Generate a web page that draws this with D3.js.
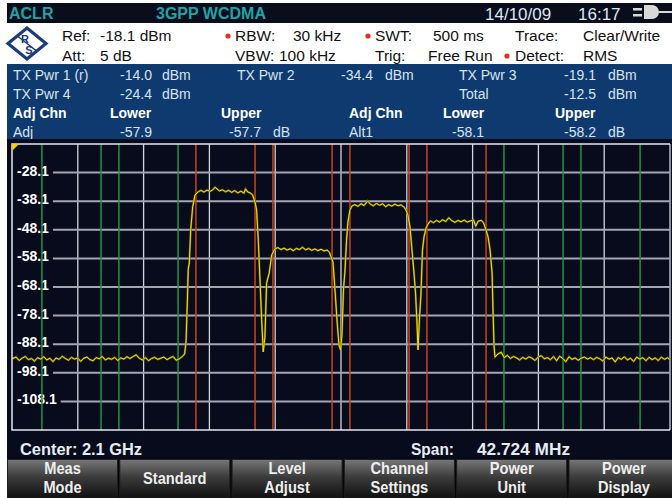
<!DOCTYPE html>
<html>
<head>
<meta charset="utf-8">
<script src="https://cdn.jsdelivr.net/npm/d3@7/dist/d3.min.js"></script>
<style>
body { margin: 0; background: #fff; }
svg { display: block; font-family: "Liberation Sans", Arial, sans-serif; }
</style>
</head>
<body>
<svg id="chart" width="672" height="498"></svg>
<script>
// sweep settings
var centerGHz = 2.1;
var spanMHz = 42.724;
var refLevel = -18.1;
var dbPerDiv = 10;
var yTicks = [-28.1, -38.1, -48.1, -58.1, -68.1, -78.1, -88.1, -98.1, -108.1];

// channel setup (offsets from center, MHz)
var chanBw = 3.84;
var txChannels = [-7.5, -2.5, 2.5, 7.5];
var adjChannels = [-12.5, 12.5, -17.5, 17.5];

// measured results
var txPower = [
	{ name: "TX Pwr 1 (r)", val: "-14.0" },
	{ name: "TX Pwr 2", val: "-34.4" },
	{ name: "TX Pwr 3", val: "-19.1" },
	{ name: "TX Pwr 4", val: "-24.4" },
	{ name: "Total", val: "-12.5" }
];
var adjResults = [
	{ name: "Adj", lower: "-57.9", upper: "-57.7" },
	{ name: "Alt1", lower: "-58.1", upper: "-58.2" }
];
var softkeys = [["Meas", "Mode"], ["Standard"], ["Level", "Adjust"], ["Channel", "Settings"], ["Power", "Unit"], ["Power", "Display"]];

// trace: [offset MHz, dBm]
var trace = [
	[-21.36,-93.2],[-21.1,-92.6],[-20.9,-93.8],[-20.7,-93.0],[-20.5,-92.4],[-20.3,-93.5],[-20.1,-93.1],[-19.9,-94.0],[-19.7,-92.8],[-19.5,-93.3],
	[-19.3,-92.5],[-19.1,-93.6],[-18.9,-93.0],[-18.7,-94.2],[-18.5,-92.9],[-18.3,-93.4],[-18.1,-92.3],[-17.9,-93.1],[-17.7,-93.7],[-17.5,-92.7],
	[-17.3,-93.3],[-17.1,-92.9],[-16.9,-94.1],[-16.7,-93.0],[-16.5,-92.6],[-16.3,-93.5],[-16.1,-93.9],[-15.9,-92.8],[-15.7,-93.2],[-15.5,-92.4],
	[-15.3,-93.6],[-15.1,-93.0],[-14.9,-93.4],[-14.7,-92.7],[-14.5,-93.8],[-14.3,-92.9],[-14.1,-93.3],[-13.9,-92.5],[-13.7,-93.1],[-13.5,-92.4],
	[-13.3,-91.8],[-13.1,-93.0],[-12.9,-93.6],[-12.7,-92.8],[-12.5,-93.9],[-12.3,-93.1],[-12.1,-92.7],[-11.9,-93.4],[-11.7,-93.0],[-11.5,-92.6],
	[-11.3,-93.5],[-11.1,-92.9],[-10.9,-92.4],[-10.7,-93.7],[-10.5,-93.2],[-10.3,-92.4],[-10.15,-91.5],
	[-10.06,-87],[-9.98,-74],[-9.92,-62],[-9.85,-59.7],[-9.76,-48.2],[-9.63,-40.1],[-9.48,-35.9],[-9.27,-34.8],
	[-9.1,-34.3],[-8.9,-34.9],[-8.7,-34.2],[-8.5,-34.7],[-8.3,-34.0],[-8.18,-33.2],[-7.9,-34.5],[-7.7,-34.1],[-7.5,-34.8],[-7.3,-34.3],
	[-7.1,-35.0],[-6.9,-34.4],[-6.7,-35.2],[-6.5,-34.6],[-6.3,-35.3],[-6.2,-33.8],[-6.05,-34.9],[-5.9,-35.2],[-5.75,-35.8],
	[-5.58,-38.4],[-5.48,-41.2],[-5.37,-51.7],[-5.26,-65.7],[-5.15,-79.6],[-5.05,-90.8],[-4.94,-85.6],[-4.83,-66.7],[-4.66,-63.2],[-4.5,-56.9],[-4.29,-54.8],
	[-4.1,-54.3],[-3.9,-55.0],[-3.7,-54.5],[-3.5,-55.2],[-3.3,-54.7],[-3.1,-55.4],[-2.9,-54.6],[-2.7,-55.0],[-2.5,-54.2],[-2.3,-55.1],
	[-2.1,-54.6],[-1.9,-55.3],[-1.7,-54.8],[-1.5,-55.4],[-1.3,-54.9],[-1.1,-55.5],[-0.9,-55.2],[-0.75,-56.0],
	[-0.52,-59.4],[-0.39,-69.2],[-0.26,-79.6],[-0.13,-88.4],[-0.03,-90.1],[0.06,-84.9],[0.16,-69.2],[0.26,-62.2],[0.36,-51.7],[0.45,-45.4],[0.58,-41.2],[0.71,-39.8],
	[0.9,-39.3],[1.1,-39.9],[1.3,-39.0],[1.5,-39.6],[1.73,-38.0],[1.9,-39.1],[2.1,-39.7],[2.3,-38.9],[2.5,-39.5],[2.7,-39.0],
	[2.9,-40.0],[3.1,-39.3],[3.3,-39.8],[3.5,-39.1],[3.7,-39.7],[3.9,-39.4],[4.1,-40.2],
	[4.22,-41.2],[4.35,-43.0],[4.48,-47.1],[4.61,-55.2],[4.74,-63.2],[4.84,-70.2],[4.94,-81.4],[5.0,-90.1],[5.1,-78.6],[5.19,-70.9],[5.29,-55.2],[5.39,-50.6],[5.52,-47.5],[5.65,-46.1],
	[5.8,-45.0],[6.0,-45.6],[6.2,-44.8],[6.4,-45.4],[6.6,-44.6],[6.8,-45.2],[7.0,-43.9],[7.2,-44.9],[7.4,-45.5],[7.6,-44.8],
	[7.8,-45.3],[8.0,-44.7],[8.2,-45.4],[8.4,-45.0],[8.6,-44.6],[8.75,-46.8],[8.9,-45.1],[9.1,-44.8],[9.25,-45.6],
	[9.42,-48.2],[9.55,-50.6],[9.68,-55.2],[9.81,-63.2],[9.87,-76.1],[9.94,-89.1],[10.0,-92.6],
	[10.2,-91.5],[10.4,-90.9],[10.6,-92.8],[10.8,-92.0],[11.0,-93.1],[11.2,-92.4],[11.4,-92.9],[11.6,-93.6],[11.8,-92.7],[12.0,-93.3],
	[12.2,-92.5],[12.4,-93.0],[12.6,-93.8],[12.8,-92.6],[13.0,-92.1],[13.2,-93.2],[13.4,-92.8],[13.6,-93.5],[13.8,-92.4],[14.0,-93.9],
	[14.2,-92.3],[14.4,-93.1],[14.6,-94.2],[14.8,-92.5],[15.0,-93.4],[15.2,-92.9],[15.4,-93.7],[15.6,-93.0],[15.8,-92.6],[16.0,-93.3],
	[16.2,-92.8],[16.4,-93.5],[16.6,-92.7],[16.8,-93.2],[17.0,-94.0],[17.2,-92.6],[17.4,-93.3],[17.6,-92.9],[17.8,-94.3],[18.0,-92.8],
	[18.2,-93.4],[18.4,-92.5],[18.6,-93.6],[18.8,-93.0],[19.0,-94.1],[19.2,-92.6],[19.4,-93.3],[19.6,-92.8],[19.8,-93.9],[20.0,-92.7],
	[20.2,-93.5],[20.4,-92.9],[20.6,-93.8],[20.8,-92.6],[21.0,-93.4],[21.2,-92.8],[21.36,-93.5]
];

// layout
var plot = { left: 12, right: 670, top: 144, bottom: 430 };
var xScale = d3.scaleLinear().domain([-spanMHz / 2, spanMHz / 2]).range([plot.left, plot.right]);
var yScale = d3.scaleLinear().domain([refLevel - 10 * dbPerDiv, refLevel]).range([plot.bottom, plot.top]);

var svg = d3.select("#chart");
var defs = svg.append("defs");
var grad = defs.append("linearGradient").attr("id", "keyGrad").attr("x1", 0).attr("x2", 0).attr("y1", 0).attr("y2", 1);
grad.append("stop").attr("offset", "0%").attr("stop-color", "#787878");
grad.append("stop").attr("offset", "45%").attr("stop-color", "#3c3c3c");
grad.append("stop").attr("offset", "100%").attr("stop-color", "#101010");
defs.append("clipPath").attr("id", "plotClip").append("rect")
	.attr("x", plot.left).attr("y", plot.top).attr("width", plot.right - plot.left).attr("height", plot.bottom - plot.top);

// squeeze text into a narrow look
function fitText(sel, factor) {
	sel.each(function() {
		var w = this.getComputedTextLength();
		d3.select(this).attr("textLength", w * factor).attr("lengthAdjust", "spacingAndGlyphs");
	});
}

// ---- title bar ----
svg.append("rect").attr("x", 7).attr("y", 3).attr("width", 665).attr("height", 20).attr("fill", "#0a0e1c");
svg.append("text").attr("x", 9).attr("y", 19).attr("fill", "#20a3a8").attr("font-weight", "bold").attr("font-size", 16).text("ACLR");
svg.append("text").attr("x", 156).attr("y", 19).attr("fill", "#20a3a8").attr("font-weight", "bold").attr("font-size", 16).text("3GPP WCDMA");
svg.append("text").attr("x", 485).attr("y", 20).attr("fill", "#dfe7f2").attr("font-size", 17).text("14/10/09");
svg.append("text").attr("x", 578).attr("y", 20).attr("fill", "#dfe7f2").attr("font-size", 17).text("16:17");
// plug icon
var plug = svg.append("g").attr("fill", "#d8d8d8");
plug.append("rect").attr("x", 633).attr("y", 8).attr("width", 9).attr("height", 2.5);
plug.append("rect").attr("x", 633).attr("y", 14).attr("width", 9).attr("height", 2.5);
plug.append("path").attr("d", "M644,5 L652,5 A7,7 0 0 1 652,19 L644,19 Z");
plug.append("rect").attr("x", 659).attr("y", 11).attr("width", 13).attr("height", 2);

// ---- settings panel ----
svg.append("rect").attr("x", 7).attr("y", 23).attr("width", 665).attr("height", 41).attr("fill", "#ffffff");
var logo = svg.append("g").attr("transform", "translate(27,43.5)");
logo.append("path").attr("d", "M-19,0 L0,-15.5 L19,0 L0,15.5 Z").attr("fill", "none").attr("stroke", "#1b3b7c").attr("stroke-width", 3.2);
logo.append("path").attr("d", "M-9,-7 L9,7").attr("stroke", "#1b3b7c").attr("stroke-width", 1.5);
logo.append("text").attr("x", -2).attr("y", -1).attr("text-anchor", "middle").attr("font-size", 11).attr("font-weight", "bold").attr("fill", "#1b3b7c").text("R");
logo.append("text").attr("x", 2).attr("y", 10).attr("text-anchor", "middle").attr("font-size", 11).attr("font-weight", "bold").attr("fill", "#1b3b7c").text("S");

var info = [
	["Ref:", 62, 41], ["-18.1 dBm", 100, 41], ["Att:", 62, 61], ["5 dB", 100, 61],
	["RBW:", 235, 41], ["30 kHz", 293, 41], ["VBW:", 235, 61], ["100 kHz", 279, 61],
	["SWT:", 375, 41], ["500 ms", 433, 41], ["Trig:", 375, 61], ["Free Run", 428, 61],
	["Trace:", 515, 41], ["Clear/Write", 583, 41], ["Detect:", 515, 61], ["RMS", 583, 61]
];
svg.selectAll(".info").data(info).enter().append("text").attr("class", "info")
	.attr("x", function(d) { return d[1]; }).attr("y", function(d) { return d[2]; })
	.attr("font-size", 15.5).attr("fill", "#111").text(function(d) { return d[0]; });
svg.selectAll(".dot").data([[228, 36], [368, 36], [507, 56]]).enter().append("circle")
	.attr("cx", function(d) { return d[0]; }).attr("cy", function(d) { return d[1]; }).attr("r", 2.6).attr("fill", "#e0321e");

// ---- result table ----
svg.append("rect").attr("x", 7).attr("y", 64).attr("width", 665).attr("height", 75).attr("fill", "#0e3a70");
var slots = [[13, 152, 162, 80], [237, 373, 385, 80], [459, 596, 608, 80], [13, 152, 162, 99], [459, 596, 608, 99]];
var tbl = svg.append("g").attr("font-size", 14).attr("fill", "#d8e2ef");
txPower.forEach(function(d, i) {
	var s = slots[i];
	tbl.append("text").attr("x", s[0]).attr("y", s[3]).text(d.name);
	tbl.append("text").attr("x", s[1]).attr("y", s[3]).attr("text-anchor", "end").text(d.val);
	tbl.append("text").attr("x", s[2]).attr("y", s[3]).text("dBm");
});
[[13, 110, 221], [349, 443, 555]].forEach(function(c) {
	tbl.append("text").attr("x", c[0]).attr("y", 118).attr("font-weight", "bold").attr("fill", "#fff").text("Adj Chn");
	tbl.append("text").attr("x", c[1]).attr("y", 118).attr("font-weight", "bold").attr("fill", "#fff").text("Lower");
	tbl.append("text").attr("x", c[2]).attr("y", 118).attr("font-weight", "bold").attr("fill", "#fff").text("Upper");
});
[[13, 152, 261, 273], [349, 484, 596, 608]].forEach(function(c, i) {
	var d = adjResults[i];
	tbl.append("text").attr("x", c[0]).attr("y", 137).text(d.name);
	tbl.append("text").attr("x", c[1]).attr("y", 137).attr("text-anchor", "end").text(d.lower);
	tbl.append("text").attr("x", c[2]).attr("y", 137).attr("text-anchor", "end").text(d.upper);
	tbl.append("text").attr("x", c[3]).attr("y", 137).text("dB");
});

// ---- plot ----
svg.append("rect").attr("x", 7).attr("y", 139).attr("width", 665).attr("height", 320).attr("fill", "#070b1c");

var divs = d3.range(0, 11).map(function(i) { return -spanMHz / 2 + i * spanMHz / 10; });
svg.append("g").selectAll("line").data(divs.slice(1)).enter().append("line")
	.attr("x1", function(d) { return xScale(d); }).attr("x2", function(d) { return xScale(d); })
	.attr("y1", plot.top).attr("y2", plot.bottom)
	.attr("stroke", "#d4d4dc").attr("stroke-width", 1.3);

// y labels, then horizontal grid starting after label
var labels = svg.append("g").selectAll("text").data(yTicks).enter().append("text")
	.attr("x", 17).attr("y", function(d) { return yScale(d) + 3; })
	.attr("font-size", 14).attr("font-weight", "bold").attr("fill", "#fff")
	.text(function(d) { return d.toFixed(1); });
var hg = svg.insert("g", "g:last-of-type");
labels.each(function(d) {
	var end = 17 + this.getComputedTextLength() + 4;
	hg.append("line").attr("x1", end).attr("x2", plot.right)
		.attr("y1", yScale(d)).attr("y2", yScale(d))
		.attr("stroke", "#a6a6b2").attr("stroke-width", 2);
});

// channel limit lines
function chanLines(centers, color) {
	var edges = [];
	centers.forEach(function(c) { edges.push(c - chanBw / 2, c + chanBw / 2); });
	svg.append("g").selectAll("line").data(edges).enter().append("line")
		.attr("x1", function(d) { return xScale(d); }).attr("x2", function(d) { return xScale(d); })
		.attr("y1", plot.top).attr("y2", plot.bottom)
		.attr("stroke", color).attr("stroke-width", 1.5);
}
chanLines(txChannels, "#c9441c");
chanLines(adjChannels, "#1c9446");

// trace
var line = d3.line().x(function(d) { return xScale(d[0]); }).y(function(d) { return yScale(d[1]); });
var tg = svg.append("g").attr("clip-path", "url(#plotClip)");
tg.append("path").attr("d", line(trace)).attr("fill", "none").attr("stroke", "#6e6400").attr("stroke-width", 2);
tg.append("path").attr("d", line(trace)).attr("fill", "none").attr("stroke", "#f4e300").attr("stroke-width", 1);

// frame
svg.append("path").attr("d", "M" + plot.right + "," + plot.top + " H" + plot.left + " V" + plot.bottom + " H" + plot.right)
	.attr("fill", "none").attr("stroke", "#e6e6ee").attr("stroke-width", 1.5);
svg.append("path").attr("d", "M12,144 L19,144 L12,151 Z").attr("fill", "#f2d200");

// ---- footer ----
var foot = svg.append("g").attr("font-size", 16).attr("font-weight", "bold").attr("fill", "#e6ecf4");
foot.append("text").attr("x", 20).attr("y", 455).attr("textLength", 122).attr("lengthAdjust", "spacingAndGlyphs").text("Center: " + centerGHz + " GHz");
foot.append("text").attr("x", 411).attr("y", 455).attr("textLength", 43).attr("lengthAdjust", "spacingAndGlyphs").text("Span:");
foot.append("text").attr("x", 477).attr("y", 455).attr("textLength", 93).attr("lengthAdjust", "spacingAndGlyphs").text(spanMHz.toFixed(3) + " MHz");

svg.append("rect").attr("x", 7).attr("y", 459).attr("width", 665).attr("height", 39).attr("fill", "#050505");
var keys = svg.selectAll(".key").data(softkeys).enter().append("g").attr("class", "key")
	.attr("transform", function(d, i) { return "translate(" + (7 + i * 112.3) + ",459)"; });
keys.append("rect").attr("x", 0.5).attr("y", 0.5).attr("width", 110).attr("height", 38.5)
	.attr("fill", "url(#keyGrad)").attr("stroke", "#1e1e1e");
keys.each(function(d) {
	var g = d3.select(this);
	var ys = d.length == 2 ? [15, 34] : [25];
	d.forEach(function(t, j) {
		g.append("text").attr("x", 55.5).attr("y", ys[j]).attr("text-anchor", "middle")
			.attr("font-size", 17).attr("font-weight", "bold").attr("fill", "#eeeeee").text(t)
			.call(fitText, 0.86);
	});
});
</script>
</body>
</html>
